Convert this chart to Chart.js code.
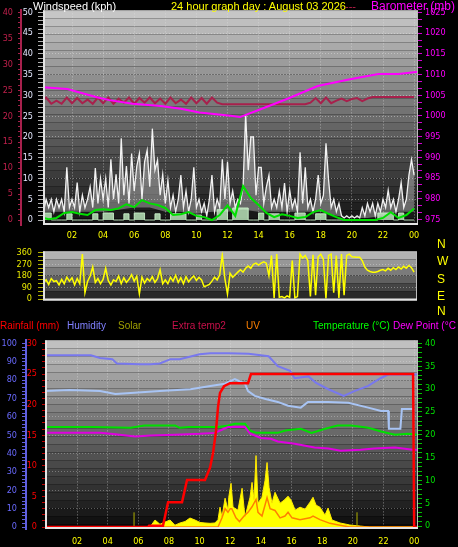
<!DOCTYPE html>
<html>
<head>
<meta charset="utf-8">
<script src="https://cdn.jsdelivr.net/npm/chart.js@4.4.1/dist/chart.umd.min.js"></script>
<style>
    body { margin: 0; background: #000; width: 458px; height: 547px; overflow: hidden; position: relative; font-family: 'Liberation Sans', Arial, sans-serif; }
    canvas { position: absolute; left: 0; }
    .t { position: absolute; font-size: 11px; line-height: 12px; white-space: nowrap; }
    .l { position: absolute; font-size: 10px; line-height: 12px; white-space: nowrap; top: 320px; }
    .c { position: absolute; left: 437px; font-size: 12px; line-height: 12px; color: #ffff00; }
</style>
</head>
<body>
<canvas id="windChart" width="458" height="246" style="top:0"></canvas>
<canvas id="dirChart" width="458" height="72" style="top:240px"></canvas>
<canvas id="climateChart" width="458" height="217" style="top:330px"></canvas>

<div class="t" style="left:33px;top:0;color:#fff">Windspeed (kph)</div>
<div class="t" style="left:171px;top:0;color:#ffff00">24 hour graph day : August 03 2026</div>
<div class="t" style="left:345px;top:0;color:#c0204c">---</div>
<div class="t" style="left:371px;top:0;color:#ff00ff;font-size:12px">Barometer (mb)</div>

<div class="c" style="top:238px">N</div>
<div class="c" style="top:255px">W</div>
<div class="c" style="top:273px">S</div>
<div class="c" style="top:290px">E</div>
<div class="c" style="top:305px">N</div>

<div class="l" style="left:0;color:#ff0000">Rainfall (mm)</div>
<div class="l" style="left:67px;color:#8080ff">Humidity</div>
<div class="l" style="left:118px;color:#a0a000">Solar</div>
<div class="l" style="left:172px;color:#c8104a">Extra temp2</div>
<div class="l" style="left:246px;color:#ff8000">UV</div>
<div class="l" style="left:313px;color:#00ff00">Temperature (°C)</div>
<div class="l" style="left:393px;color:#ff00ff">Dew Point (°C</div>

<script>
// ---- wind panel (hours from midnight) ----
// gust, one reading every 10 minutes
const gustKph = [
    5, 2, 5, 3, 5, 2,   5, 3, 5, 2, 12.7, 3,   5, 3, 9, 2, 6, 3,   5, 8, 3, 12.5, 4, 10,
    5, 10, 3, 14.6, 5, 11,   4, 19.7, 6, 13, 4, 16,   7, 13, 16, 5, 14, 16.8,   8, 22, 12, 14.4, 6, 11,
    4, 9.6, 3, 6, 2, 5,   10.8, 3, 7, 2, 5, 12.7,   3, 5, 2, 4, 1, 5,   10.8, 2, 5, 3, 14.6, 5,
    14, 4, 7, 3, 5, 4,   8, 25.5, 12, 20, 20, 6,   12.7, 12.7, 4, 8, 10.8, 3,   5, 3, 7, 3, 8.9, 2,
    7.2, 3, 5, 2, 16.3, 4,   12.7, 3, 5, 2, 5, 10.8,   4, 6, 18.5, 9.6, 3, 5,   2, 4, 1, 0.5, 1, 0.5,
    1, 0.5, 1, 0.5, 3, 1,   4, 2, 4, 1, 4, 2,   5, 3, 7.2, 3, 5, 2,   5, 9, 3, 5, 10.8, 14.6,
    10.8
];
// lowest gust reading per hour (bottom of the white band)
const gustFloorKph = [2, 2, 2, 2, 2, 2.5, 3, 3, 2, 2, 1.5, 2, 2, 2.5, 2, 2, 2, 2, 2, 1, 0.5, 0.5, 1, 2, 2];
// average speed, every 30 minutes
const avgKph = [
    0.7, 0.2, 0.5, 1.7, 1.9, 1.5, 1.2, 2.4, 2.6, 2.4, 2.8, 3.8, 3.1, 4.8, 4.0, 3.6, 2.9,
    1.2, 1.4, 1.9, 1.0, 0.7, 0, 1.2, 3.5, 1.0, 8.2, 5.3, 3.6, 1.7, 0.7, 1.4, 1.0,
    0.5, 0.7, 1.9, 2.4, 1.5, 0.7, 0, 0, 0, 0, 0, 0.5, 1.9, 0.5, 1.2, 2.8
];
// lull, every 20 minutes
const lullKph = [
    1.7, 1.7, 1.7, 0, 0, 0, 1.5, 0, 0, 0, 0, 1.5, 0, 1.7, 1.7, 0, 0, 1.5,
    0, 1.7, 1.7, 0, 0, 1.5, 0, 0, 1.5, 1.5, 1.5, 0, 0, 1.2, 0, 0, 0, 2.5,
    2.5, 0, 2.9, 2.9, 2.9, 0, 0, 1.7, 0, 1.5, 1.5, 0, 0, 0, 1.7, 1.7, 0, 0,
    1.5, 1.5, 0, 0, 0, 0, 0, 0, 0, 0, 0, 0, 1.7, 1.7, 1.7, 0, 1.7, 0, 0
];
// extra sensor on the crimson scale, every 20 minutes
const extraVals = [
    22.6, 23.6, 22.4, 23.0, 22.4, 23.6, 22.5, 23.5, 22.5, 23.2, 22.4, 23.6,
    22.5, 23.6, 22.4, 23.4, 22.6, 23.6, 22.4, 23.5, 22.6, 23.6, 22.5, 23.4,
    22.4, 23.6, 22.5, 23.2, 22.4, 23.6, 22.5, 23.5, 22.4, 23.6, 22.6, 22.3,
    22.3, 22.3, 22.3, 22.3, 22.3, 22.3, 22.3, 22.3, 22.3, 22.3, 22.3, 22.3,
    22.3, 22.3, 22.3, 22.3, 22.6, 23.5, 22.5, 23.6, 22.5, 23.0, 23.4, 22.9,
    23.3, 23.5, 22.9, 23.4, 23.7, 23.7, 23.7, 23.7, 23.7, 23.7, 23.7, 23.7, 23.7
];
const pressureHours = [0.1, 1.7, 3.6, 4.4, 5.9, 7.7, 9.0, 10.2, 12.2, 12.8, 14.0, 15.9, 17.8, 19.8, 21.7, 23.0, 24.3];
const pressureMb = [1006.9, 1006.5, 1004.5, 1003.8, 1002.9, 1002.4, 1001.7, 1000.8, 1000.0, 999.7, 1001.4, 1004.2, 1007.2, 1008.8, 1010.1, 1010.1, 1010.7];

// ---- wind direction, every 10 minutes ----
const windDirDeg = [
    183, 126, 150, 114, 160, 137,   143, 110, 154, 120, 171, 140,   166, 110, 160, 120, 350, 50,
    137, 180, 251, 130, 160, 120,   154, 240, 143, 110, 150, 137,   180, 120, 166, 130, 154, 190,
    140, 178, 40, 171, 125, 160,    140, 175, 130, 160, 229, 120,   150, 120, 170, 140, 185, 130,
    166, 120, 175, 135, 160, 180,   145, 170, 150, 97, 105, 114,    140, 171, 150, 190, 343, 160,
    40, 200, 170, 190, 210, 229,    210, 240, 257, 240, 270, 280,   265, 280, 290, 280, 183, 340,
    10, 350, 15, 20, 10, 25,        15, 300, 10, 20, 350, 320,      340, 300, 20, 345, 30, 330,
    350, 310, 5, 340, 350, 50,      340, 10, 350, 30, 340, 350,     330, 328, 326, 326, 300, 250,
    225, 215, 210, 210, 215, 225,   230, 220, 240, 225, 245, 230,   250, 235, 255, 240, 262, 245,
    210
];

// ---- climate panel ----
const rainHours = [-0.1, 6.63, 6.7, 7.61, 7.94, 8.85, 9.18, 10.35, 10.68, 10.87, 11.07, 11.2, 11.33, 11.59, 11.98, 13.16, 13.35, 23.93, 24.0, 24.3];
const rainMm = [0, 0, 0.2, 0.2, 4.05, 4.05, 7.7, 7.7, 9.7, 12, 15.7, 19.6, 21.9, 23, 23.5, 23.5, 25, 25, 0, 0];

const humHours = [-0.1, 2.9, 3.5, 4.3, 4.6, 6.1, 6.8, 7.4, 8.1, 8.7, 10.0, 10.7, 11.9, 13.2, 14.5, 15.1, 15.9, 16.2, 17.1, 17.6, 18.4, 19.4, 20.1, 21.0, 21.8, 22.3, 23.6, 24.3];
const humPct = [93.5, 93.5, 92, 91.4, 89, 88.6, 88.6, 89, 91.4, 91.4, 94, 94.6, 94.6, 94.3, 93, 87.6, 85, 81, 82, 78.4, 75, 71.4, 74, 76.8, 81, 83, 83, 83];

const hum2Hours = [-0.1, 1.5, 3.5, 4.5, 5.5, 7.4, 9.4, 10.7, 11.65, 12.3, 12.96, 13.16, 13.6, 14.3, 15.1, 15.77, 16.6, 17.07, 18.38, 19.7, 21.0, 21.84, 22.3, 22.35, 23.1, 23.2, 23.95];
const hum2Pct = [74, 74.6, 74, 72.4, 73, 74, 75, 76.8, 78, 80.5, 78, 74, 71.4, 69.7, 68.1, 66, 65, 68.1, 68.1, 67.6, 65, 63.2, 63.2, 53.5, 53.5, 64.3, 64.3];

const tempHours = [-0.1, 3, 5.5, 6.4, 8.4, 8.7, 9.3, 11.2, 11.87, 12.3, 12.96, 13.3, 13.7, 15.1, 15.6, 16.6, 17.3, 18.2, 19.0, 19.9, 21.0, 21.84, 22.75, 23.6, 24.3];
const tempC = [21.7, 21.7, 21.5, 22, 22, 21.5, 21.7, 21.7, 22, 22.4, 22.4, 20.9, 20.4, 20.4, 20.9, 21.3, 20.4, 21.3, 22, 22, 21.5, 20.7, 20, 20.2, 20];

const dewHours = [-0.1, 3.5, 4.2, 5.8, 6.8, 8.4, 10, 11.0, 11.6, 11.87, 12.96, 13.3, 14.0, 14.65, 15.1, 16.2, 17.5, 18.4, 19.2, 20.5, 21.4, 22.75, 23.9, 24.3];
const dewC = [20.4, 20.4, 20.2, 19.6, 19.8, 20, 20.2, 20.4, 21.3, 21.7, 21.7, 20.2, 19.3, 19.1, 18.5, 18, 17.2, 17, 16.5, 16.7, 17, 17.2, 16.7, 16.7];

const solarHours = [-0.1, 6.76, 7.09, 7.41, 7.74, 8.07, 8.39, 8.72, 9.05, 9.37, 9.7, 10.02, 10.35, 10.68, 11.0, 11.2, 11.33, 11.46, 11.66, 11.85, 11.9, 12.05, 12.18, 12.5, 12.77, 12.96, 13.29, 13.42, 13.55, 13.68, 13.81, 14.07, 14.27, 14.4, 14.53, 14.72, 14.92, 15.25, 15.51, 15.77, 15.97, 16.23, 16.55, 16.88, 17.2, 17.4, 17.6, 17.85, 18.18, 18.38, 18.64, 19.16, 19.8, 20.5, 21.1, 24.3];
const solarWm2 = [0, 0, 38, 15, 27, 38, 10, 22, 30, 49, 38, 25, 22, 20, 22, 40, 108, 54, 157, 92, 162, 238, 108, 92, 211, 54, 162, 243, 146, 389, 130, 162, 254, 351, 216, 130, 189, 130, 146, 168, 146, 92, 108, 97, 135, 162, 119, 108, 65, 103, 38, 22, 11, 5, 0, 0];

const uvHours = [-0.1, 11.2, 11.46, 11.66, 11.85, 12.0, 12.1, 12.37, 12.6, 12.9, 13.16, 13.42, 13.68, 13.81, 14.07, 14.27, 14.4, 14.6, 14.92, 15.25, 15.57, 15.77, 16.03, 16.55, 17.2, 17.4, 17.85, 18.5, 19.16, 19.8, 24.3];
const uvIndex = [0, 0, 0.5, 1.0, 0.8, 1.0, 1.0, 0.5, 0.3, 0.6, 0.8, 1.1, 1.5, 0.8, 0.6, 1.2, 1.6, 1.0, 0.9, 0.5, 0.6, 0.8, 0.5, 0.4, 0.5, 0.6, 0.4, 0.2, 0.1, 0, 0];

const solarMarkHours = [5.72, 20.27];
const solarMarkVals = [80, 80];

const hourTicks = [2, 4, 6, 8, 10, 12, 14, 16, 18, 20, 22, 24];

const NARROW = "'Liberation Sans Narrow', 'DejaVu Sans Condensed', 'Liberation Sans', sans-serif";

// stepped grey gradient behind each plot, plus the light frame
const panelBg = {
    id: 'panelBg',
    beforeDraw(chart, args, opts) {
        const { ctx, chartArea: a } = chart;
        const band = 8;
        const n = Math.ceil((a.bottom - a.top) / band);
        ctx.save();
        for (let i = 0; i < n; i++) {
            const t = n > 1 ? i / (n - 1) : 0;
            const c = Math.round(opts.top + (opts.bottom - opts.top) * t);
            ctx.fillStyle = `rgb(${c},${c},${c})`;
            const y = a.top + i * band;
            ctx.fillRect(a.left, y, a.right - a.left, Math.min(band, a.bottom - y));
        }
        ctx.restore();
    },
    afterDraw(chart) {
        const { ctx, chartArea: a } = chart;
        ctx.save();
        ctx.strokeStyle = '#bdbdbd';
        ctx.lineWidth = 1;
        ctx.strokeRect(a.left + 0.5, a.top + 0.5, a.right - a.left - 1, a.bottom - a.top - 1);
        ctx.strokeStyle = '#e4e4e4';
        ctx.lineWidth = 2;
        ctx.beginPath();
        ctx.moveTo(a.left + 1, a.top);
        ctx.lineTo(a.left + 1, a.bottom - 1);
        ctx.lineTo(a.right, a.bottom - 1);
        ctx.stroke();
        ctx.restore();
    }
};

function stepHours(count, step) {
    return Array.from({ length: count }, (_, i) => i * step);
}

function series(xs, ys) {
    return xs.map((x, i) => ({ x: x, y: ys[i] }));
}

function rulerTicks(from, to, step) {
    const ticks = [];
    for (let k = 0; from + k * step <= to + 1e-6; k++) {
        ticks.push({ value: +(from + k * step).toFixed(3) });
    }
    return ticks;
}

function isMultiple(v, m) {
    return Math.abs(v / m - Math.round(v / m)) < 1e-4;
}

function ruler(o) {
    return {
        type: 'linear',
        position: o.position || 'left',
        weight: o.weight || 0,
        display: o.display === undefined ? true : o.display,
        min: o.min,
        max: o.max,
        afterBuildTicks: s => { if (o.step) s.ticks = rulerTicks(o.from, o.to, o.step); },
        afterFit: s => { s.width = o.width || 0; },
        ticks: {
            autoSkip: false,
            color: o.labelColor,
            padding: o.padding,
            font: { family: NARROW, size: 9 },
            callback: v => (o.major && isMultiple(v, o.major)) ? String(Math.round(v)) : ''
        },
        grid: {
            drawOnChartArea: !!o.gridColor,
            color: c => (o.gridColor && c.tick && isMultiple(c.tick.value, o.gridStep) && c.tick.value > o.from && c.tick.value < o.to) ? o.gridColor : 'rgba(0,0,0,0)',
            tickColor: o.tickColor,
            tickLength: o.tickLength,
            tickBorderDash: []
        },
        border: o.border
            ? { display: true, color: o.border, width: 2, dash: [1, 2] }
            : { display: false, dash: [1, 2] }
    };
}

function hourAxis(min, max, show, padding, height) {
    return {
        type: 'linear',
        display: show,
        min: min,
        max: max,
        afterBuildTicks: s => { s.ticks = hourTicks.map(v => ({ value: v })); },
        afterFit: s => { s.height = height; },
        ticks: {
            autoSkip: false,
            maxRotation: 0,
            color: '#ffff00',
            padding: padding,
            font: { family: NARROW, size: 9 },
            callback: v => String(v % 24).padStart(2, '0')
        },
        grid: { drawTicks: false, color: 'rgba(230,230,230,0.5)' },
        border: { display: false, dash: [1, 2] }
    };
}

function lineSet(data, color, width, axis, order, extra) {
    return Object.assign({
        data: data,
        borderColor: color,
        borderWidth: width,
        pointRadius: 0,
        fill: false,
        yAxisID: axis,
        order: order
    }, extra || {});
}

function chartOptions(bg, padding, scales) {
    return {
        responsive: false,
        animation: false,
        devicePixelRatio: 1,
        events: [],
        layout: { padding: padding },
        plugins: { legend: { display: false }, tooltip: { enabled: false }, panelBg: bg },
        scales: scales
    };
}

function renderWindChart() {
    const ctx = document.getElementById('windChart').getContext('2d');
    new Chart(ctx, {
        type: 'line',
        data: {
            datasets: [
                lineSet(series(pressureHours, pressureMb), '#ff00ff', 2, 'baro', 1),
                lineSet(series(stepHours(extraVals.length, 1 / 3), extraVals), '#a8204c', 2, 'extra', 2),
                lineSet(series(stepHours(avgKph.length, 0.5), avgKph), '#00e000', 2, 'wind', 3),
                lineSet(series(stepHours(lullKph.length, 1 / 3), lullKph), 'rgba(205,245,205,0.85)', 1, 'wind', 4,
                    { stepped: 'after', fill: 'origin', backgroundColor: 'rgba(195,240,195,0.8)' }),
                // gust line, shaded down to the hourly floor (next dataset)
                lineSet(series(stepHours(gustKph.length, 1 / 6), gustKph), 'rgba(255,255,255,0.92)', 1.3, 'wind', 5,
                    { fill: '+1', backgroundColor: 'rgba(255,255,255,0.33)' }),
                lineSet(series(stepHours(gustFloorKph.length, 1), gustFloorKph), 'rgba(0,0,0,0)', 0, 'wind', 6)
            ]
        },
        options: chartOptions({ top: 198, bottom: 18 }, { top: 10, left: 0, right: 0, bottom: 0 }, {
            x: hourAxis(0.135, 24.25, true, 5, 21),
            extra: ruler({ min: -0.96, max: 40.38, from: 0, to: 40, step: 1, major: 5, width: 21, weight: 1,
                labelColor: '#c0204c', tickColor: '#a8204c', tickLength: 3, padding: 5, border: '#a8204c' }),
            wind: ruler({ min: -1.2, max: 50.48, from: 0, to: 50, step: 1, major: 5, width: 22, weight: 0,
                labelColor: '#e4e8ff', tickColor: '#b0b0b0', tickLength: 5, padding: 5,
                gridColor: 'rgba(230,230,230,0.45)', gridStep: 5 }),
            baro: ruler({ position: 'right', min: 973.6, max: 1025.5, from: 975, to: 1025, step: 5 / 3, major: 5, width: 40,
                labelColor: '#ff00ff', tickColor: '#d000d0', tickLength: 4, padding: 3 })
        }),
        plugins: [panelBg]
    });
}

function renderDirChart() {
    const ctx = document.getElementById('dirChart').getContext('2d');
    new Chart(ctx, {
        type: 'line',
        data: {
            datasets: [
                lineSet(series(stepHours(windDirDeg.length, 1 / 6), windDirDeg), '#ffff00', 1.5, 'dir', 1)
            ]
        },
        options: chartOptions({ top: 178, bottom: 14 }, { top: 2, left: 0, right: 41, bottom: 3 }, {
            x: hourAxis(0.135, 24.19, false, 0, 0),
            dir: ruler({ min: -11.4, max: 371.4, from: 0, to: 360, step: 30, major: 90, width: 43,
                labelColor: '#e8e800', tickColor: '#b0b000', tickLength: 5, padding: 6,
                gridColor: 'rgba(230,230,230,0.4)', gridStep: 90 })
        }),
        plugins: [panelBg]
    });
}

function renderClimateChart() {
    const ctx = document.getElementById('climateChart').getContext('2d');
    const marks = [];
    solarMarkHours.forEach((h, i) => {
        marks.push({ x: h, y: 0 }, { x: h, y: solarMarkVals[i] }, { x: h, y: null });
    });
    new Chart(ctx, {
        type: 'line',
        data: {
            datasets: [
                lineSet(series(rainHours, rainMm), '#ff0000', 2.5, 'rain', 1),
                lineSet(series(dewHours, dewC), '#e000e0', 2, 'temp', 2),
                lineSet(series(tempHours, tempC), '#00e000', 2, 'temp', 3),
                lineSet(series(humHours, humPct), '#7878ee', 2, 'hum', 4),
                lineSet(series(hum2Hours, hum2Pct), '#a8c4f4', 2, 'hum', 5),
                lineSet(series(uvHours, uvIndex), '#ff8000', 1.5, 'uv', 6),
                lineSet(marks, '#b0b000', 1, 'solar', 7),
                lineSet(series(solarHours, solarWm2), '#ffe800', 1, 'solar', 8,
                    { fill: 'origin', backgroundColor: '#ffff00' })
            ]
        },
        options: chartOptions({ top: 192, bottom: 10 }, { top: 9, left: 0, right: 0, bottom: 0 }, {
            x: hourAxis(-0.09, 24.25, true, 7, 18),
            hum: ruler({ min: -1.08, max: 101.6, from: 0, to: 100, step: 2, major: 10, width: 26, weight: 1,
                labelColor: '#6a6aff', tickColor: '#6060e0', tickLength: 4, padding: 5, border: '#6060e0',
                gridColor: 'rgba(230,230,230,0.35)', gridStep: 10 }),
            rain: ruler({ min: -0.32, max: 30.49, from: 0, to: 30, step: 1, major: 5, width: 19, weight: 0,
                labelColor: '#ff0000', tickColor: '#c00000', tickLength: 3, padding: 5 }),
            temp: ruler({ position: 'right', min: -0.65, max: 40.65, from: 0, to: 40, step: 1, major: 5, width: 40,
                labelColor: '#00e000', tickColor: '#00c000', tickLength: 4, padding: 3 }),
            solar: ruler({ display: false, min: -10.8, max: 1016 }),
            uv: ruler({ display: false, min: -0.108, max: 10.16 })
        }),
        plugins: [panelBg]
    });
}

renderWindChart();
renderDirChart();
renderClimateChart();
</script>
</body>
</html>
